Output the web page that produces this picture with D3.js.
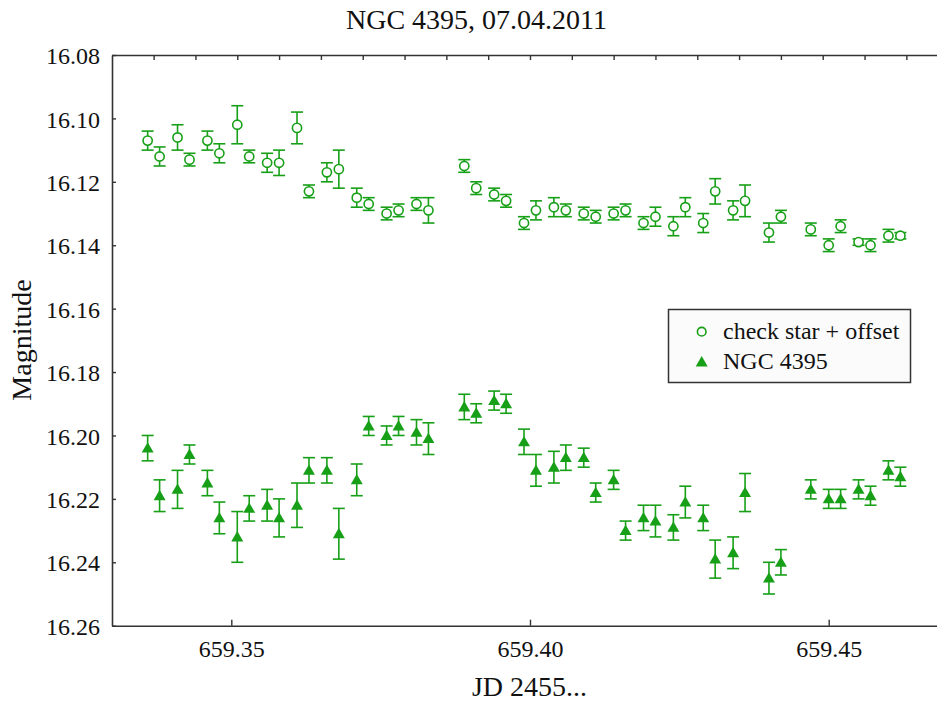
<!DOCTYPE html>
<html>
<head>
<meta charset="utf-8">
<script src="https://cdn.jsdelivr.net/npm/d3@7"></script>
<style>
  html, body { margin: 0; padding: 0; background: #fff; }
  svg { display: block; }
  text { font-family: "Liberation Serif", "Times New Roman", serif; fill: #111; }
</style>
</head>
<body>
<svg id="chart" width="937" height="706"></svg>
<script>
const title = "NGC 4395, 07.04.2011";
const xLabel = "JD 2455...";
const yLabel = "Magnitude";
const seriesNames = ["check star + offset", "NGC 4395"];

const jd = [659.336, 659.338, 659.341, 659.343, 659.346, 659.348, 659.351, 659.353, 659.356, 659.358,
            659.361, 659.363, 659.366, 659.368, 659.371, 659.373, 659.376, 659.378, 659.381, 659.383,
            659.389, 659.391, 659.394, 659.396, 659.399, 659.401, 659.404, 659.406, 659.409, 659.411,
            659.414, 659.416, 659.419, 659.421, 659.424, 659.426, 659.429, 659.431, 659.434, 659.436,
            659.440, 659.442, 659.447, 659.450, 659.452, 659.455, 659.457, 659.460, 659.462];

const checkMag = [16.107, 16.112, 16.106, 16.113, 16.107, 16.111, 16.102, 16.112, 16.114, 16.114,
                  16.103, 16.123, 16.117, 16.116, 16.125, 16.127, 16.130, 16.129, 16.127, 16.129,
                  16.115, 16.122, 16.124, 16.126, 16.133, 16.129, 16.128, 16.129, 16.130, 16.131,
                  16.130, 16.129, 16.133, 16.131, 16.134, 16.128, 16.133, 16.123, 16.129, 16.126,
                  16.136, 16.131, 16.135, 16.140, 16.134, 16.139, 16.140, 16.137, 16.137];
const checkErr = [0.003, 0.003, 0.004, 0.002, 0.003, 0.003, 0.006, 0.002, 0.003, 0.004,
                  0.005, 0.002, 0.003, 0.006, 0.003, 0.002, 0.002, 0.002, 0.002, 0.004,
                  0.002, 0.002, 0.002, 0.002, 0.002, 0.003, 0.003, 0.002, 0.002, 0.002,
                  0.002, 0.002, 0.002, 0.003, 0.003, 0.003, 0.003, 0.004, 0.003, 0.005,
                  0.003, 0.002, 0.002, 0.002, 0.002, 0.001, 0.002, 0.002, 0.001];

const ngcMag = [16.204, 16.219, 16.217, 16.206, 16.215, 16.226, 16.232, 16.223, 16.222, 16.226,
                16.222, 16.211, 16.211, 16.231, 16.214, 16.197, 16.200, 16.197, 16.199, 16.201,
                16.191, 16.193, 16.189, 16.190, 16.202, 16.211, 16.210, 16.207, 16.207, 16.218,
                16.214, 16.230, 16.226, 16.227, 16.229, 16.221, 16.226, 16.239, 16.237, 16.218,
                16.245, 16.240, 16.217, 16.220, 16.220, 16.217, 16.219, 16.211, 16.213];
const ngcErr = [0.004, 0.005, 0.006, 0.003, 0.004, 0.005, 0.008, 0.004, 0.005, 0.006,
                0.007, 0.004, 0.004, 0.008, 0.005, 0.003, 0.003, 0.003, 0.004, 0.005,
                0.004, 0.003, 0.003, 0.003, 0.004, 0.005, 0.005, 0.004, 0.003, 0.003,
                0.003, 0.003, 0.004, 0.005, 0.004, 0.005, 0.004, 0.006, 0.005, 0.006,
                0.005, 0.004, 0.003, 0.003, 0.003, 0.003, 0.003, 0.003, 0.003];

const yTicks = [16.08, 16.10, 16.12, 16.14, 16.16, 16.18, 16.20, 16.22, 16.24, 16.26];
const xTicks = [659.35, 659.40, 659.45];
const topTicks = [659.337, 659.344, 659.351, 659.358, 659.365, 659.372, 659.379, 659.386, 659.393,
                  659.400, 659.407, 659.414, 659.421, 659.428, 659.435, 659.442, 659.449, 659.456, 659.463];

const green = "#17a017";
const axisColor = "#333";

const svg = d3.select("#chart");
const pL = 112, pR = 937, pT = 55, pB = 625.7;

const x = d3.scaleLinear().domain([659.33003, 659.46813]).range([pL, pR]);
const y = d3.scaleLinear().domain([16.08, 16.26]).range([pT, pB]);

// Title
svg.append("text").attr("x", 476.5).attr("y", 29).attr("text-anchor", "middle")
  .style("font-size", "28px").text(title);

// Axes
const gY = svg.append("g").attr("transform", `translate(${pL},0)`)
  .call(d3.axisLeft(y).tickValues(yTicks).tickFormat(d3.format(".2f")).tickSizeInner(-4).tickSizeOuter(0).tickPadding(12));
const gX = svg.append("g").attr("transform", `translate(0,${pB})`)
  .call(d3.axisBottom(x).tickValues(xTicks).tickFormat(d3.format(".2f")).tickSizeInner(-6).tickSizeOuter(0).tickPadding(14));
const gT = svg.append("g").attr("transform", `translate(0,${pT})`)
  .call(d3.axisTop(x).tickValues(topTicks).tickFormat("").tickSizeInner(-5).tickSizeOuter(0));

[gY, gX, gT].forEach(g => {
  g.select(".domain").attr("stroke", axisColor).attr("stroke-width", 1.6);
  g.selectAll(".tick line").attr("stroke", axisColor).attr("stroke-width", 1.4);
  g.selectAll(".tick text").style("font-size", "24px").style("font-family", "'Liberation Serif', serif").attr("fill", "#111");
});
gY.selectAll(".tick text").attr("dy", "0.36em");
gX.selectAll(".tick text").attr("dy", "0.71em");

// Axis titles
svg.append("text").attr("transform", "translate(31,340) rotate(-90)").attr("text-anchor", "middle")
  .style("font-size", "28px").text(yLabel);
svg.append("text").attr("x", 529.5).attr("y", 696).attr("text-anchor", "middle")
  .style("font-size", "28px").text(xLabel);

const capW = 6;
function drawSeries(mags, errs, cls) {
  const data = jd.map((t, i) => ({ t, m: mags[i], e: errs[i] }));
  const g = svg.append("g").attr("class", cls);
  const eb = g.selectAll("g.eb").data(data).join("g").attr("class", "eb")
    .attr("stroke", green).attr("stroke-width", 1.6).attr("fill", "none");
  eb.append("line").attr("x1", d => x(d.t)).attr("x2", d => x(d.t))
    .attr("y1", d => y(d.m - d.e)).attr("y2", d => y(d.m + d.e));
  eb.append("line").attr("x1", d => x(d.t) - capW).attr("x2", d => x(d.t) + capW)
    .attr("y1", d => y(d.m - d.e)).attr("y2", d => y(d.m - d.e));
  eb.append("line").attr("x1", d => x(d.t) - capW).attr("x2", d => x(d.t) + capW)
    .attr("y1", d => y(d.m + d.e)).attr("y2", d => y(d.m + d.e));
  return { g, data };
}

const s1 = drawSeries(checkMag, checkErr, "check");
s1.g.selectAll("circle").data(s1.data).join("circle")
  .attr("cx", d => x(d.t)).attr("cy", d => y(d.m)).attr("r", 4.6)
  .attr("fill", "#fff").attr("stroke", green).attr("stroke-width", 1.6);

const s2 = drawSeries(ngcMag, ngcErr, "ngc");
const tri = d3.symbol().type(d3.symbolTriangle).size(62);
s2.g.selectAll("path.tri").data(s2.data).join("path").attr("class", "tri")
  .attr("transform", d => `translate(${x(d.t)},${y(d.m) + 1})`)
  .attr("d", tri).attr("fill", green);

// Legend
const lg = svg.append("g");
lg.append("rect").attr("x", 668.5).attr("y", 309.5).attr("width", 242).attr("height", 73)
  .attr("fill", "#fbfbfb").attr("stroke", axisColor).attr("stroke-width", 1.5);
lg.append("circle").attr("cx", 701.7).attr("cy", 331.7).attr("r", 4.3)
  .attr("fill", "none").attr("stroke", green).attr("stroke-width", 1.6);
lg.append("path").attr("transform", "translate(701.7,363)").attr("d", tri).attr("fill", green);
lg.append("text").attr("x", 723).attr("y", 338.5).style("font-size", "24px").text(seriesNames[0]);
lg.append("text").attr("x", 723).attr("y", 368.5).style("font-size", "24px").text(seriesNames[1]);
</script>
</body>
</html>
